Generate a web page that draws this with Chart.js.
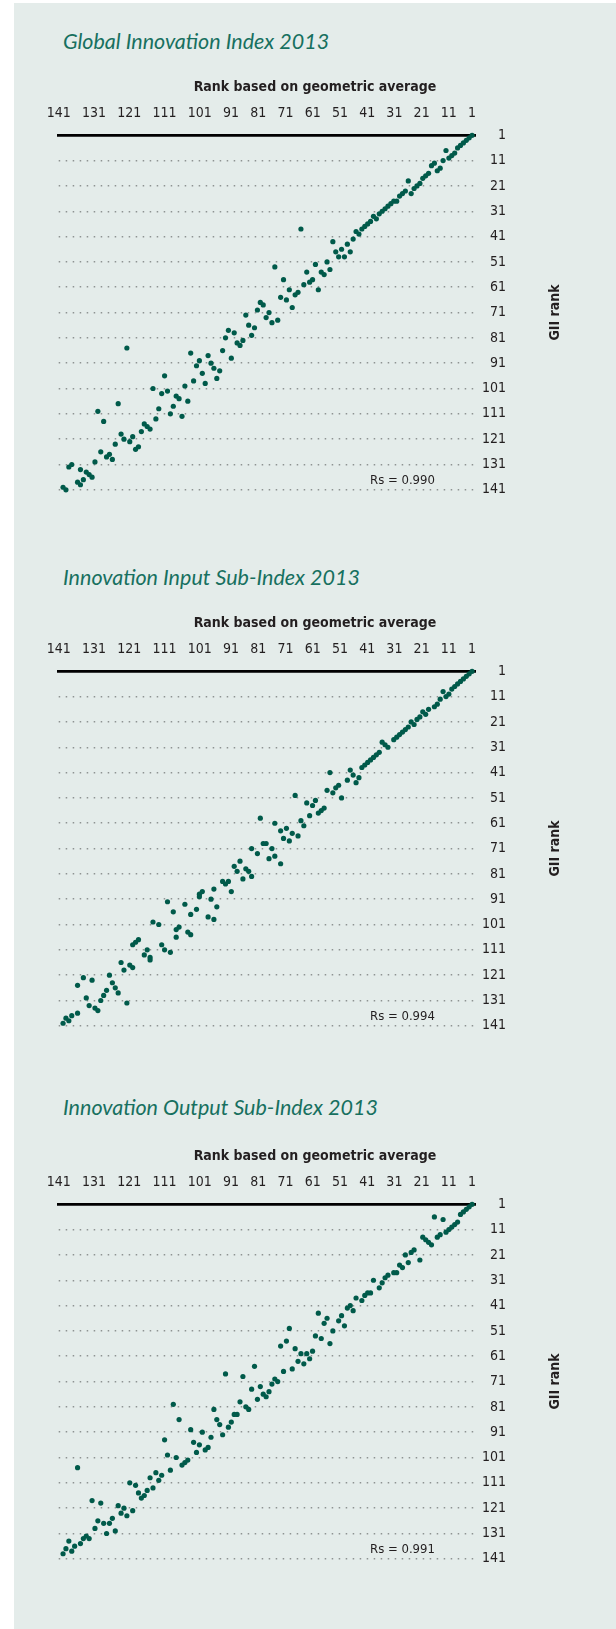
<!DOCTYPE html>
<html>
<head>
<meta charset="utf-8">
<script src="https://cdn.jsdelivr.net/npm/chart.js@4.4.1/dist/chart.umd.min.js"></script>
<style>
  html, body { margin:0; padding:0; background:#ffffff; }
  body { position:relative; width:616px; height:1629px; overflow:hidden; }
  #panel { position:absolute; left:14px; top:3px; width:602px; height:1626px; background:#e4ecea; }
  .ttl { position:absolute; left:63px; height:26px; line-height:26px; font-family: Lato, 'Open Sans', sans-serif;
         font-style: italic; font-size:21.5px; color:#17705f; white-space:nowrap; }
  canvas { position:absolute; left:14px; }
</style>
</head>
<body>
<div id="panel"></div>
<script>
// ---------------- data ----------------
const X_TICK_LABELS = ['141','131','121','111','101','91','81','71','61','51','41','31','21','11','1'];
const Y_TICK_VALUES = [1,11,21,31,41,51,61,71,81,91,101,111,121,131,141];
const CHART_TITLES = ['Global Innovation Index 2013','Innovation Input Sub-Index 2013','Innovation Output Sub-Index 2013'];
const X_AXIS_TITLE = 'Rank based on geometric average';
const Y_AXIS_TITLE = 'GII rank';
const RS_TEXTS = ['Rs = 0.990','Rs = 0.994','Rs = 0.991'];
const RS_AT = [25, 137.3];   // annotation anchor in data units (geo rank, GII rank)

// Global Innovation Index: x = rank based on geometric average, y = GII rank
const GII_GEO = [1,2,3,4,5,6,7,8,9,10,11,
 12,13,14,15,16,17,18,19,20,21,22,23,24,
 25,26,27,28,29,30,31,32,33,34,35,36,37,38,39,40,41,
 42,43,44,45,46,47,48,49,50,51,52,53,
 60,69,55,58,66,56,57,59,54,64,61,62,67,65,74,73,63,75,71,79,72,
 68,70,78,76,77,85,83,86,80,82,81,87,84,98,95,96,92,91,90,94,
 88,89,93,97,107,100,111,106,108,103,102,99,120,104,109,105,101,110,123,130,
 128,114,113,112,115,122,118,121,119,124,116,117,129,126,127,125,131,139,140,136,
 134,133,132,135,137,136,142,141];
const GII_RANK = [1,2,3,4,5,6,8,9,10,7,11,
 14,15,12,13,16,17,18,20,21,22,24,19,23,
 24,25,27,27,28,29,30,31,32,34,33,35,36,37,38,40,39,
 42,47,44,49,46,49,47,43,54,51,56,55,
 38,53,52,55,58,58,59,60,62,62,63,64,65,66,67,68,69,70,71,72,73,
 74,75,76,77,80,78,79,81,82,83,84,86,89,87,90,92,88,91,93,95,
 94,97,99,98,96,100,101,102,103,104,105,106,85,108,109,111,112,113,107,110,
 114,115,116,117,118,119,120,121,122,123,124,125,126,127,128,129,130,131,132,133,
 134,135,136,137,138,139,140,141];

// Innovation Input Sub-Index
const INPUT_GEO = [1,2,3,4,5,6,7,8,9,10,11,12,13,14,16,17,18,19,20,21,22,23,24,25,26,27,28,
 30,31,32,33,34,35,36,37,38,39,40,41,42,43,44,46,47,48,49,50,51,52,53,54,55,56,57,58,59,60,
 61,62,63,64,65,66,67,69,70,72,73,74,77,
 75,69,71,67,81,83,82,79,78,80,77,87,86,85,84,90,94,95,95,91,
 89,106,104,100,98,96,92,90,111,109,102,103,103,99,98,116,117,118,108,107,
 105,113,114,112,112,122,121,119,118,126,125,124,123,127,128,129,120,132,135,137,
 134,133,131,130,137,139,140,141,142];
const INPUT_RANK = [1,2,3,4,5,6,7,8,10,11,9,12,14,15,16,18,17,19,20,22,21,23,24,25,26,27,28,
 31,30,29,33,34,35,36,37,38,39,43,45,42,40,44,51,46,47,49,41,48,55,56,57,52,54,58,53,62,60,
 66,50,65,68,63,67,64,61,71,69,69,59,71,
 73,74,75,77,76,78,80,79,80,83,82,84,85,84,88,87,88,89,90,91,
 94,92,96,93,97,95,98,99,100,101,102,103,106,104,105,107,108,109,109,111,
 112,111,113,114,115,116,119,117,118,121,124,126,128,127,129,131,132,123,122,125,
 130,133,134,135,136,137,139,138,140];

// Innovation Output Sub-Index
const OUTPUT_GEO = [1,2,3,4,5,6,7,8,9,10,12,13,14,11,15,16,17,18,19,21,22,23,24,25,26,27,28,
 30,31,32,33,35,36,37,38,39,41,42,43,44,45,46,47,49,50,51,52,53,54,55,56,58,60,62,64,65,67,
 57,61,59,63,66,76,80,86,69,68,70,74,77,71,73,72,75,81,79,78,
 83,82,84,85,87,90,89,88,91,94,98,97,95,92,93,96,104,102,107,106,
 103,99,100,101,105,137,110,112,108,109,111,119,117,116,115,114,113,132,129,123,
 121,118,122,120,125,130,126,128,131,127,124,134,135,133,
 142,141,140,139,138,136];
const OUTPUT_RANK = [1,2,3,4,5,8,9,10,11,12,13,14,6,7,17,16,15,14,23,19,20,24,21,26,25,28,28,
 29,30,32,34,31,36,36,37,39,38,43,41,42,49,45,47,51,56,46,48,54,44,53,59,60,60,58,50,55,57,
 62,63,64,66,67,65,69,68,70,71,72,73,74,75,76,77,78,79,81,82,
 84,84,87,89,92,82,86,88,93,91,90,95,96,97,98,99,80,86,94,100,
 101,102,103,104,106,105,107,109,108,110,113,111,112,115,117,116,114,118,119,120,
 121,122,123,124,125,126,127,127,129,131,130,132,133,133,
 139,137,134,138,136,135];

const SERIES = [[GII_GEO, GII_RANK], [INPUT_GEO, INPUT_RANK], [OUTPUT_GEO, OUTPUT_RANK]];

// ---------------- style / layout ----------------
const NARROW = "'Liberation Sans Narrow', 'Arial Narrow', 'DejaVu Sans Condensed', sans-serif";
const INK = '#231f20';
const DOT = '#005a4a';
const GRID = '#8e9392';
const TOPS = [0, 536, 1069];
const TITLE_CENTERS = [41, 576.7, 1106.7];
const CANVAS_W = 602, CANVAS_H = 535;
const TICK_SIZE = 14;

// top label row: labels typeset like a line of text (equal gaps), first at plot left, last at its value
class RowScale extends Chart.CategoryScale {
  getPixelForTick(index) {
    const ticks = this.ticks || [];
    const n = ticks.length;
    const xs = this.chart.scales.x;
    if (n < 2 || !xs) return super.getPixelForTick(index);
    const f = Chart.helpers.toFont(this.options.ticks.font);
    const ctx = this.ctx;
    ctx.save(); ctx.font = f.string;
    const w = ticks.map(t => ctx.measureText(String(t.label)).width);
    ctx.restore();
    const L = this.left;
    const R = xs.getPixelForValue(parseFloat(X_TICK_LABELS[X_TICK_LABELS.length - 1]));
    let span = 0;
    for (let i = 0; i < n - 1; i++) span += (w[i] + w[i + 1]) / 2;
    const gap = (R - L - span) / (n - 1);
    let c = L;
    for (let i = 0; i < index; i++) c += (w[i] + w[i + 1]) / 2 + gap;
    return c;
  }
}
RowScale.id = 'row';
RowScale.defaults = Chart.CategoryScale.defaults;
Chart.register(RowScale);

const notesPlugin = {
  id: 'notes',
  afterDatasetsDraw(chart, args, o) {
    const { ctx, chartArea, scales } = chart;
    ctx.save();
    ctx.fillStyle = INK;
    ctx.textAlign = 'center';
    ctx.textBaseline = 'middle';
    ctx.font = '13px ' + NARROW;
    ctx.fillText(o.rs, scales.x.getPixelForValue(RS_AT[0]), scales.y.getPixelForValue(RS_AT[1]));
    ctx.font = 'bold 14px ' + NARROW;
    ctx.translate(chartArea.right + 80, (chartArea.top + chartArea.bottom) / 2);
    ctx.rotate(-Math.PI / 2);
    ctx.fillText(Y_AXIS_TITLE, 0, 0);
    ctx.restore();
  }
};

function makeChart(i) {
  const [geo, rank] = SERIES[i];
  const t = document.createElement('div');
  t.className = 'ttl';
  t.textContent = CHART_TITLES[i];
  t.style.top = (TITLE_CENTERS[i] - 13) + 'px';
  document.body.appendChild(t);

  const cv = document.createElement('canvas');
  cv.width = CANVAS_W; cv.height = CANVAS_H;
  cv.style.top = TOPS[i] + 'px';
  document.body.appendChild(cv);

  new Chart(cv, {
    type: 'scatter',
    data: { datasets: [{
      data: geo.map((x, k) => ({ x: x, y: rank[k] })),
      backgroundColor: DOT, borderWidth: 0, pointRadius: 2.6, pointHoverRadius: 2.6, clip: false
    }] },
    options: {
      responsive: false, animation: false, events: [],
      layout: { padding: { left: 44.7, right: 44.7, top: 79.4, bottom: 45.2 } },
      plugins: {
        legend: { display: false }, tooltip: { enabled: false }, title: { display: false },
        subtitle: { display: true, text: X_AXIS_TITLE, color: INK,
          font: { family: NARROW, size: 14, weight: 'bold', lineHeight: 1.2 }, padding: { top: 0, bottom: 9.1 } },
        notes: { rs: RS_TEXTS[i] }
      },
      scales: {
        x: { type: 'linear', display: false, reverse: true, min: 0, max: 143.5 },
        xt: { type: 'row', axis: 'x', position: 'top', labels: X_TICK_LABELS, offset: false,
          grid: { display: false, drawTicks: false },
          border: { display: true, color: '#000000', width: 2.7 },
          ticks: { color: INK, font: { family: NARROW, size: TICK_SIZE, lineHeight: 1.2 }, padding: 13.6,
                   autoSkip: false, maxRotation: 0, minRotation: 0 },
          afterFit: s => { s.height = 30; } },
        y: { type: 'linear', position: 'right', weight: 0, reverse: true, min: 1, max: 141,
          afterBuildTicks: s => { s.ticks = Y_TICK_VALUES.map(v => ({ value: v })); },
          afterFit: s => { s.width = 31; },
          grid: { color: c => (c.tick && c.tick.value === Y_TICK_VALUES[0]) ? 'rgba(0,0,0,0)' : GRID,
                  lineWidth: 1.5, drawTicks: false, borderDash: [1.5, 5.5] },
          border: { display: false, dash: [1.5, 5.5] },
          ticks: { color: INK, font: { family: NARROW, size: TICK_SIZE }, padding: 4, crossAlign: 'far',
                   callback: v => String(v) } },
        gap: { type: 'linear', axis: 'y', position: 'right', weight: 1, display: true,
          grid: { display: false, drawTicks: false }, border: { display: false },
          ticks: { display: false },
          afterFit: s => { s.width = 65.3; } }
      }
    },
    plugins: [notesPlugin]
  });
}

[0, 1, 2].forEach(makeChart);
</script>
</body>
</html>
